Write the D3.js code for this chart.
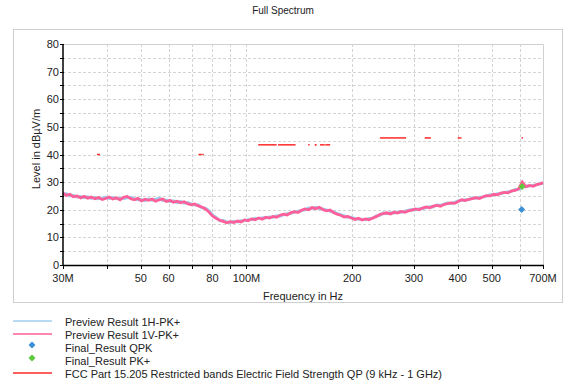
<!DOCTYPE html>
<html>
<head>
<meta charset="utf-8">
<script src="https://cdnjs.cloudflare.com/ajax/libs/d3/7.8.5/d3.min.js"></script>
<style>
  body { margin: 0; background: #fff; font-family: "Liberation Sans", Arial, sans-serif; }
  text { font-family: "Liberation Sans", Arial, sans-serif; fill: #222; }
</style>
</head>
<body>
<div id="chart"></div>
<script>
// Frequencies of the preview scan (MHz).
var freqs = [
  30, 30.7, 31.4, 32.1, 32.9, 33.7, 34.5, 35.3, 36.1, 37,
  37.9, 38.8, 39.7, 40.6, 41.6, 42.6, 43.6, 44.6, 45.7, 46.8,
  47.9, 49, 50.2, 51.4, 52.6, 53.8, 55.1, 56.4, 57.7, 59.1,
  60.5, 61.9, 63.4, 64.9, 66.4, 68, 69.6, 71.2, 72.9, 74.6,
  76.4, 78.2, 80, 81.9, 83.9, 85.8, 87.9, 89.9, 92.1, 94.2,
  96.5, 98.7, 101, 103.4, 105.9, 108.4, 110.9, 113.5, 116.2, 119,
  121.8, 124.7, 127.6, 130.6, 133.7, 136.9, 140.1, 143.4, 146.8, 150.3,
  153.8, 157.5, 161.2, 165, 168.9, 172.9, 177, 181.2, 185.5, 189.9,
  194.4, 199, 203.7, 208.5, 213.4, 218.5, 223.6, 228.9, 234.3, 239.9,
  245.5, 251.3, 257.3, 263.4, 269.6, 276, 282.5, 289.2, 296, 303,
  310.2, 317.5, 325, 332.7, 340.6, 348.6, 356.9, 365.3, 374, 382.8,
  391.9, 401.1, 410.6, 420.3, 430.3, 440.5, 450.9, 461.5, 472.5, 483.6,
  495.1, 506.8, 518.8, 531, 543.6, 556.5, 569.6, 583.1, 596.9, 611,
  625.5, 640.3, 655.4, 670.9, 686.8, 700
];

// Preview Result 1H-PK+ (dBuV/m)
var levelH = [
  25.6, 25.8, 25.0, 25.2, 24.6, 24.8, 24.4, 24.7, 24.1, 24.5,
  24.0, 24.2, 24.6, 24.1, 24.4, 24.0, 24.2, 24.0, 24.3, 24.5,
  24.0, 23.6, 23.7, 23.3, 23.9, 23.5, 23.8, 24.2, 23.4, 23.5,
  23.0, 23.2, 22.6, 23.0, 22.4, 22.6, 22.1, 21.7, 21.8, 20.7,
  20.6, 19.6, 18.1, 17.2, 16.0, 16.1, 15.6, 15.4, 15.8, 15.6,
  16.0, 16.1, 16.4, 16.5, 16.9, 16.8, 17.1, 17.0, 17.4, 17.3,
  17.8, 17.7, 18.2, 18.6, 18.7, 19.1, 19.5, 19.6, 20.0, 20.6,
  20.5, 20.9, 20.4, 20.3, 19.9, 19.5, 19.3, 18.7, 18.2, 17.8,
  17.3, 17.3, 16.8, 16.6, 16.6, 16.4, 16.8, 16.9, 17.8, 18.0,
  18.9, 18.6, 18.9, 18.8, 19.2, 19.1, 19.5, 19.8, 20.1, 20.0,
  20.4, 20.4, 20.8, 21.1, 21.0, 21.7, 21.6, 22.0, 22.4, 22.3,
  22.7, 23.2, 23.4, 23.6, 23.7, 24.3, 24.2, 24.5, 24.6, 25.0,
  25.4, 25.4, 25.8, 25.9, 26.2, 26.5, 26.7, 27.3, 27.4, 28.1,
  28.6, 28.6, 28.9, 29.0, 29.6, 29.5
];

// Preview Result 1V-PK+ (dBuV/m)
var levelV = [
  26.0, 25.2, 25.6, 24.7, 25.0, 24.3, 24.9, 24.2, 24.6, 24.0,
  24.4, 23.7, 24.1, 24.6, 23.9, 24.3, 23.6, 24.5, 24.8, 24.0,
  23.6, 24.1, 23.2, 23.8, 23.4, 23.9, 23.1, 23.6, 23.9, 23.0,
  23.4, 22.7, 23.1, 22.5, 22.9, 22.2, 21.8, 22.1, 21.4, 21.0,
  20.3, 19.2, 17.8, 16.9, 16.2, 15.8, 15.3, 15.7, 15.4, 15.9,
  15.6, 16.3, 16.0, 16.7, 16.4, 17.0, 16.6, 17.3, 17.0, 17.6,
  17.3, 18.0, 18.4, 18.1, 18.9, 19.3, 19.0, 19.8, 20.3, 20.0,
  20.8, 20.4, 20.9, 20.1, 19.6, 19.9, 19.0, 18.4, 18.0, 17.4,
  17.6, 17.0, 16.5, 16.9, 16.3, 16.7, 16.4, 17.0, 17.5, 18.3,
  18.6, 18.9, 18.5, 19.1, 18.8, 19.4, 19.1, 19.6, 19.9, 20.3,
  20.0, 20.6, 21.0, 20.7, 21.3, 21.6, 21.3, 21.9, 22.2, 22.5,
  22.3, 23.0, 23.6, 23.3, 23.8, 24.0, 24.4, 24.1, 24.7, 25.1,
  25.0, 25.6, 25.4, 26.0, 26.3, 26.1, 26.8, 27.0, 27.6, 30.0,
  28.3, 28.8, 28.5, 29.1, 29.4, 29.8
];

// Final measurements
var qpkFreq = [608.5];
var qpkLevel = [20.1];
var pkFreq = [610];
var pkLevel = [28.4];

// FCC 15.205 restricted bands (MHz) and QP limit (dBuV/m)
var bandStart = [37.5, 73, 74.8, 108, 123, 149.9, 156.52475, 156.7, 162.0125, 167.72, 240, 322, 399.9, 608];
var bandStop  = [38.25, 74.6, 75.2, 121.94, 138, 150.05, 156.52525, 156.9, 167.17, 173.2, 285, 335.4, 410, 614];
var bandLimit = [40, 40, 40, 43.5, 43.5, 43.5, 43.5, 43.5, 43.5, 43.5, 46, 46, 46, 46];

// Axis ticks
var xTicks = [30, 40, 50, 60, 70, 80, 90, 100, 200, 300, 400, 500, 600, 700];
var xTickLabels = ["30M", "", "50", "60", "", "80", "", "100M", "200", "300", "400", "500", "", "700M"];
var yTicks = [0, 10, 20, 30, 40, 50, 60, 70, 80];

var legendNames = ["Preview Result 1H-PK+", "Preview Result 1V-PK+", "Final_Result QPK", "Final_Result PK+",
  "FCC Part 15.205 Restricted bands Electric Field Strength QP (9 kHz - 1 GHz)"];

var width = 567, height = 385;
var plotLeft = 63, plotRight = 543, plotTop = 44, plotBottom = 265;
var colH = "#9fcff2", colV = "#ff5f98", colLimit = "#ff2a2a", colQpk = "#3b8fd6", colPk = "#5cc83a";

var svg = d3.select("#chart").append("svg")
    .attr("width", width)
    .attr("height", height);

// outer frame
svg.append("rect")
    .attr("x", 13.5).attr("y", 29.5)
    .attr("width", 549).attr("height", 273)
    .attr("fill", "none").attr("stroke", "#cfcfcf");

svg.append("text")
    .attr("x", 283).attr("y", 14)
    .attr("text-anchor", "middle")
    .style("font-size", "10px")
    .text("Full Spectrum");

var x = d3.scaleLog().domain([30, 700]).range([plotLeft, plotRight]);
var y = d3.scaleLinear().domain([0, 80]).range([plotBottom, plotTop]);

// grid
var grid = svg.append("g").attr("stroke", "#d4d4d4").attr("stroke-dasharray", "3,2");
grid.selectAll(".gy").data(d3.range(5, 80, 5)).enter().append("line")
    .attr("x1", plotLeft).attr("x2", plotRight)
    .attr("y1", d => Math.round(y(d)) + 0.5).attr("y2", d => Math.round(y(d)) + 0.5);
grid.selectAll(".gx").data(xTicks.slice(1, -1)).enter().append("line")
    .attr("x1", d => Math.round(x(d)) + 0.5).attr("x2", d => Math.round(x(d)) + 0.5)
    .attr("y1", plotTop).attr("y2", plotBottom);

// plot border top/right
svg.append("path")
    .attr("d", "M" + plotLeft + "," + (plotTop + 0.5) + "H" + (plotRight + 0.5) + "V" + plotBottom)
    .attr("fill", "none").attr("stroke", "#d0d0d0");

// limit segments
svg.append("g").selectAll("line").data(bandStart).enter().append("line")
    .attr("x1", d => x(d))
    .attr("x2", (d, i) => Math.max(x(bandStop[i]), x(d) + 1.5))
    .attr("y1", (d, i) => y(bandLimit[i]))
    .attr("y2", (d, i) => y(bandLimit[i]))
    .attr("stroke", colLimit).attr("stroke-width", 1.5);

// preview traces (thick, the scan is noisy)
var line = d3.line().x(d => x(d[0])).y(d => y(d[1]));
svg.append("path")
    .datum(freqs.map((f, i) => [f, levelH[i]]))
    .attr("d", line)
    .attr("fill", "none").attr("stroke", colH).attr("stroke-width", 3);
svg.append("path")
    .datum(freqs.map((f, i) => [f, levelV[i]]))
    .attr("d", line)
    .attr("fill", "none").attr("stroke", colV).attr("stroke-width", 2.8);

// final markers
var diamond = d3.symbol().type(d3.symbolSquare).size(24);
svg.selectAll(".qpk").data(qpkFreq).enter().append("path")
    .attr("d", diamond)
    .attr("transform", (d, i) => "translate(" + x(d) + "," + y(qpkLevel[i]) + ") rotate(45)")
    .attr("fill", colQpk);
svg.selectAll(".pk").data(pkFreq).enter().append("path")
    .attr("d", diamond)
    .attr("transform", (d, i) => "translate(" + x(d) + "," + y(pkLevel[i]) + ") rotate(45)")
    .attr("fill", colPk);

// y axis
var yAxis = svg.append("g")
    .attr("transform", "translate(" + plotLeft + ",0)");
yAxis.append("line").attr("x1", 0).attr("x2", 0).attr("y1", plotTop).attr("y2", plotBottom)
    .attr("stroke", "#000").attr("stroke-width", 1.5);
yAxis.selectAll(".tk").data(d3.range(0, 85, 5)).enter().append("line")
    .attr("x1", -3).attr("x2", 1)
    .attr("y1", d => Math.round(y(d)) + 0.5).attr("y2", d => Math.round(y(d)) + 0.5)
    .attr("stroke", "#000");
yAxis.selectAll("text").data(yTicks).enter().append("text")
    .attr("x", -4).attr("y", d => y(d) + 4)
    .attr("text-anchor", "end")
    .style("font-size", "11px")
    .text(d => d);

// x axis
var xAxis = svg.append("g")
    .attr("transform", "translate(0," + plotBottom + ")");
xAxis.append("line").attr("x1", plotLeft).attr("x2", plotRight + 1).attr("y1", 0.5).attr("y2", 0.5)
    .attr("stroke", "#000").attr("stroke-width", 1.5);
xAxis.selectAll(".tk").data(xTicks).enter().append("line")
    .attr("x1", d => Math.round(x(d)) + 0.5).attr("x2", d => Math.round(x(d)) + 0.5)
    .attr("y1", 0).attr("y2", 4)
    .attr("stroke", "#000");
xAxis.selectAll("text").data(xTicks).enter().append("text")
    .attr("x", d => x(d)).attr("y", 17)
    .attr("text-anchor", "middle")
    .style("font-size", "11px")
    .text((d, i) => xTickLabels[i]);

// axis titles
svg.append("text")
    .attr("transform", "translate(40,149) rotate(-90)")
    .attr("text-anchor", "middle")
    .style("font-size", "11px")
    .text("Level in dBµV/m");
svg.append("text")
    .attr("x", 303).attr("y", 300)
    .attr("text-anchor", "middle")
    .style("font-size", "11px")
    .text("Frequency in Hz");

// legend
var legend = svg.append("g").attr("id", "legend");
var legendY = [322, 335, 348, 361, 374];
var legendCol = [colH, colV, colQpk, colPk, colLimit];
legendNames.forEach(function(name, i) {
  var ly = legendY[i];
  if (i === 2 || i === 3) {
    legend.append("path")
        .attr("d", diamond)
        .attr("transform", "translate(32," + (ly - 3) + ") rotate(45)")
        .attr("fill", legendCol[i]);
  } else {
    legend.append("line")
        .attr("x1", 13).attr("x2", 52)
        .attr("y1", ly - 1).attr("y2", ly - 1)
        .attr("stroke", legendCol[i]).attr("stroke-width", 1.4);
  }
  legend.append("text")
      .attr("x", 65).attr("y", ly + 4)
      .style("font-size", "11px")
      .text(name);
});
</script>
</body>
</html>
